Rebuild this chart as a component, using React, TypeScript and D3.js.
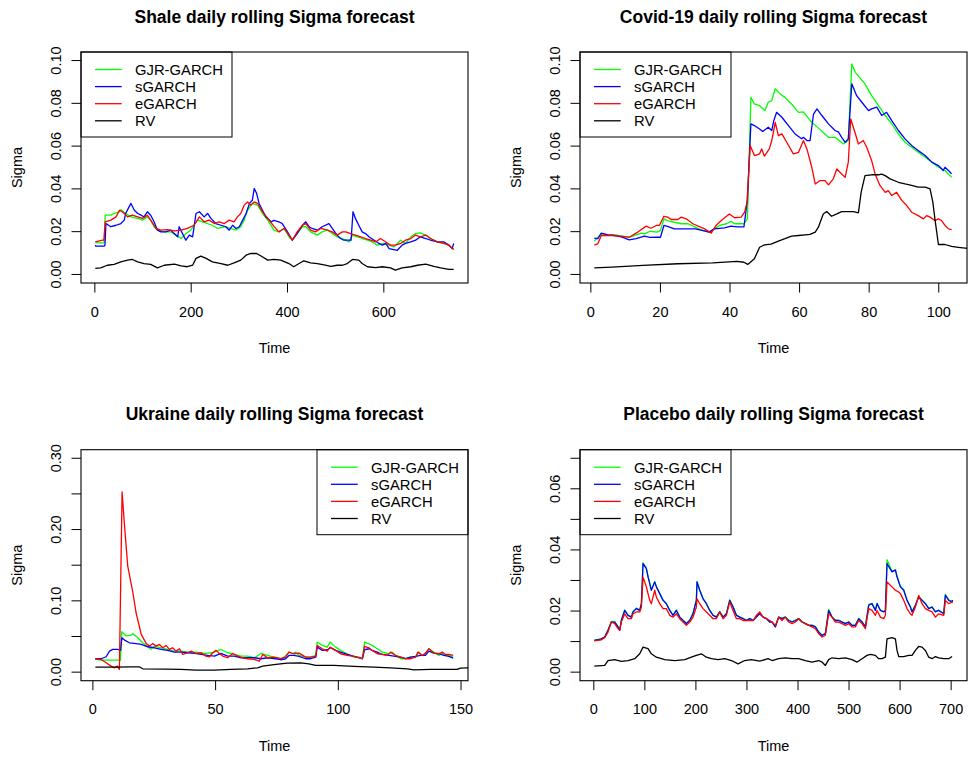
import React from "react";
import * as d3 from "d3";

type Pt = [number, number];

// Legend labels and line colours (drawn in this order)
const modelNames = ["GJR-GARCH", "sGARCH", "eGARCH", "RV"];
const modelColors = ["#00ff00", "#0000ff", "#ff0000", "#000000"];

// ---------- Shale (days 1..745) ----------
const shaleGjr: Pt[] = [
  [1, .0148], [19, .0148], [21.5, .0277], [33, .0277], [40, .0285], [51, .0293], [54, .0303], [64, .0285], [75, .0269],
  [89, .0262], [99, .0254], [109, .0269], [116, .0254], [123, .0223], [130, .0207], [144, .0199], [158, .0199],
  [168, .0184], [179, .0168], [189, .0191], [199, .0207], [206, .0230], [213, .0254], [224, .0246], [234, .0238],
  [244, .0230], [255, .0215], [269, .0223], [282, .0215], [293, .0207], [303, .0223], [310, .0254], [317, .0300],
  [327, .0332], [338, .0324], [348, .0285], [359, .0254], [372, .0207], [382, .0199], [393, .0215], [403, .0176],
  [410, .0160], [420, .0191], [431, .0223], [438, .0223], [448, .0199], [462, .0184], [472, .0199], [483, .0207],
  [493, .0191], [503, .0176], [514, .0168], [528, .0152], [535, .0184], [545, .0176], [555, .0168], [566, .0160],
  [576, .0152], [586, .0137], [600, .0145], [611, .0137], [621, .0129], [635, .0160], [645, .0145], [656, .0176],
  [666, .0191], [676, .0194], [687, .0184], [697, .0168], [711, .0152], [725, .0145], [735, .0137], [745, .0117],
];
const shaleSgarch: Pt[] = [
  [1, .0137], [2, .0132], [12, .0132], [19, .0132], [21, .0137], [23, .0238], [33, .0223], [44, .0230], [54, .0238],
  [61, .0254], [64, .0285], [71, .0316], [75, .0332], [82, .0300], [89, .0285], [96, .0277], [102, .0269], [109, .0293],
  [116, .0277], [123, .0246], [130, .0207], [137, .0199], [147, .0199], [158, .0207], [165, .0191], [172, .0176],
  [175, .0223], [182, .0191], [189, .0160], [196, .0184], [203, .0176], [206, .0223], [210, .0285], [217, .0293],
  [227, .0269], [234, .0285], [241, .0262], [251, .0238], [262, .0230], [272, .0223], [279, .0207], [286, .0230],
  [293, .0215], [300, .0223], [307, .0254], [314, .0285], [321, .0332], [327, .0347], [331, .0402], [336, .0378],
  [341, .0332], [348, .0300], [355, .0269], [366, .0246], [372, .0253], [382, .0246], [389, .0238], [400, .0199],
  [410, .0160], [420, .0191], [431, .0230], [438, .0246], [445, .0223], [451, .0215], [462, .0207], [472, .0223],
  [486, .0238], [493, .0215], [503, .0184], [510, .0168], [517, .0160], [528, .0160], [532, .0160], [536, .0293],
  [541, .0262], [548, .0230], [555, .0199], [562, .0191], [569, .0176], [580, .0160], [590, .0145], [597, .0137],
  [604, .0145], [611, .0121], [628, .0113], [638, .0137], [645, .0145], [656, .0152], [666, .0160], [676, .0176],
  [687, .0168], [697, .0160], [711, .0152], [725, .0152], [735, .0137], [742, .0121], [745, .0145],
];
const shaleEgarch: Pt[] = [
  [1, .0152], [16, .0160], [19, .0160], [21.5, .0246], [33, .0254], [44, .0269], [51, .0300], [57, .0293], [68, .0269],
  [78, .0277], [89, .0269], [99, .0262], [109, .0277], [116, .0254], [127, .0215], [137, .0207], [151, .0210],
  [165, .0204], [179, .0207], [192, .0215], [206, .0230], [217, .0269], [227, .0246], [237, .0254], [248, .0238],
  [258, .0246], [269, .0238], [279, .0254], [289, .0246], [296, .0269], [303, .0285], [310, .0324], [317, .0339],
  [324, .0324], [331, .0339], [338, .0332], [348, .0293], [359, .0262], [372, .0225], [382, .0199], [393, .0215],
  [403, .0184], [410, .0160], [420, .0199], [431, .0230], [438, .0238], [448, .0207], [458, .0199], [469, .0215],
  [483, .0207], [493, .0199], [503, .0184], [514, .0199], [521, .0199], [531, .0191], [541, .0184], [552, .0176],
  [562, .0168], [573, .0160], [583, .0152], [593, .0168], [604, .0152], [614, .0137], [624, .0137], [635, .0145],
  [645, .0160], [656, .0168], [666, .0184], [676, .0176], [687, .0184], [697, .0168], [711, .0152], [725, .0145],
  [735, .0137], [745, .0117],
];
const shaleRv: Pt[] = [
  [1, .0028], [12, .0031], [26, .0043], [40, .0047], [54, .0059], [68, .0067], [78, .0070], [89, .0059], [102, .0051],
  [116, .0047], [130, .0031], [144, .0043], [165, .0048], [179, .0040], [192, .0036], [203, .0043], [210, .0075],
  [220, .0086], [231, .0075], [244, .0059], [262, .0051], [276, .0043], [289, .0054], [303, .0067], [314, .0090],
  [324, .0098], [336, .0098], [345, .0086], [359, .0067], [372, .0070], [386, .0067], [403, .0051], [413, .0036],
  [424, .0051], [434, .0064], [448, .0054], [462, .0051], [476, .0045], [490, .0038], [503, .0043], [514, .0043],
  [524, .0051], [535, .0070], [548, .0067], [555, .0051], [566, .0036], [583, .0032], [597, .0036], [614, .0031],
  [624, .0020], [638, .0031], [656, .0036], [670, .0043], [687, .0048], [704, .0038], [718, .0031], [735, .0024],
  [745, .0024],
];

// ---------- Covid-19 (days 1..104) ----------
const covidGjr: Pt[] = [
  [1, .0156], [3, .0190], [5, .0185], [7, .0185], [9, .0179], [11, .0173], [13, .0185], [14.5, .0193], [15.4, .0190],
  [17, .0202], [19, .0198], [20, .0206], [21, .0260], [22, .0252], [24, .0244], [26, .0237], [28, .0237], [30, .0221],
  [32, .0206], [34, .0198], [35.5, .0213], [37, .0229], [39, .0237], [40.3, .0248], [41.3, .0237], [44, .0237],
  [45, .0260], [46, .0828], [47, .0797], [48.5, .0789], [50, .0766], [51, .0805], [52, .0813], [53, .0868],
  [54.4, .0844], [55.8, .0828], [57.7, .0797], [59.7, .0758], [61.1, .0760], [63, .0720], [65, .0690], [68.3, .0641],
  [70.2, .0641], [72.6, .0610], [74, .0625], [75, .0984], [76, .0945], [78.8, .0891], [80.7, .0836], [82.7, .0789],
  [84.6, .0743], [86.5, .0704], [88.4, .0657], [90.3, .0618], [92.2, .0595], [94.1, .0571], [96.1, .0548],
  [98, .0525], [99.9, .0501], [101.8, .0486], [103.7, .0454],
];
const covidSgarch: Pt[] = [
  [1, .0170], [2, .0167], [3, .0193], [5, .0185], [7, .0182], [9, .0174], [11, .0162], [13, .0167], [15.4, .0179],
  [17, .0173], [19, .0174], [20, .0174], [21, .0229], [22, .0225], [24, .0213], [27, .0213], [30, .0213], [32, .0206],
  [34, .0198], [35.5, .0213], [38.4, .0218], [40.3, .0226], [42, .0222], [44, .0222], [45, .0350], [46, .0704],
  [47, .0696], [48.5, .0680], [49.4, .0668], [51, .0688], [52, .0673], [52.6, .0720], [53.4, .0758], [54.9, .0735],
  [56.8, .0696], [58.7, .0657], [60.6, .0634], [61.1, .0641], [62.1, .0626], [63, .0626], [64, .0750], [65, .0774],
  [66.4, .0743], [68.3, .0704], [70.2, .0673], [71.2, .0665], [72.1, .0641], [73.1, .0618], [74, .0634],
  [75, .0891], [76.4, .0836], [77.9, .0805], [79.8, .0766], [80.7, .0774], [82.2, .0782], [83.6, .0743],
  [85, .0758], [86.5, .0719], [88.4, .0673], [90.3, .0634], [92.2, .0603], [94.1, .0579], [96.1, .0556],
  [98, .0525], [99.9, .0509], [101.3, .0486], [101.8, .0501], [102.8, .0486], [103.7, .0470],
];
const covidEgarch: Pt[] = [
  [1, .0138], [2, .0143], [3, .0182], [6, .0182], [9, .0178], [11, .0174], [13.5, .0198], [15.9, .0226],
  [17.3, .0216], [18.8, .0229], [19.7, .0229], [21, .0272], [22.1, .0268], [23.1, .0257], [25, .0257], [26, .0268],
  [27.4, .0260], [29.3, .0237], [32.7, .0213], [34.6, .0193], [36, .0229], [37.5, .0252], [39.8, .0283],
  [41.3, .0265], [43.2, .0268], [44.2, .0291], [44.9, .0338], [45.8, .0603], [47, .0556], [48.5, .0564],
  [49.1, .0587], [49.9, .0553], [51.3, .0587], [52, .0626], [53, .0711], [53.9, .0649], [54.9, .0657],
  [56.3, .0618], [58.2, .0564], [59.7, .0571], [61.1, .0626], [62.1, .0587], [63.5, .0501], [64.5, .0423],
  [65.9, .0439], [67.3, .0439], [68.3, .0419], [69.7, .0447], [70.7, .0493], [71.6, .0478], [73.1, .0454],
  [74, .0525], [74.7, .0727], [75.9, .0665], [76.9, .0610], [78.3, .0626], [79.3, .0595], [80.7, .0533],
  [81.7, .0470], [83.1, .0416], [84.6, .0384], [85.5, .0392], [86.5, .0369], [87.9, .0384], [89.4, .0345],
  [90.8, .0322], [92.2, .0291], [94.1, .0275], [95.6, .0260], [96.5, .0275], [97.5, .0268], [98.9, .0252],
  [99.9, .0260], [100.8, .0252], [101.8, .0229], [102.8, .0213], [103.7, .0210],
];
const covidRv: Pt[] = [
  [1, .0031], [6, .0034], [15, .0042], [25, .0050], [35, .0054], [42, .0061], [44, .0057], [45.1, .0047],
  [47, .0073], [48.5, .0127], [49.9, .0138], [51.8, .0142], [53.9, .0156], [55.8, .0167], [57.7, .0179],
  [59.7, .0182], [61.6, .0185], [63, .0187], [64.5, .0198], [65.4, .0221], [66.8, .0283], [67.8, .0294],
  [69.2, .0272], [70.7, .0283], [72.1, .0294], [73.6, .0294], [75.5, .0294], [76.9, .0288], [77.7, .0385],
  [78.8, .0462], [80.7, .0466], [82.7, .0466], [83.6, .0469], [84.6, .0462], [86, .0447], [88.4, .0431],
  [90.3, .0423], [92.2, .0416], [94.1, .0408], [96.1, .0408], [97.5, .0400], [98.3, .0338], [98.9, .0260],
  [99.9, .0140], [101.8, .0140], [103.7, .0131], [105.6, .0127], [107.6, .0123], [110, .0120],
];

// ---------- Ukraine (days 1..147) ----------
const ukraineGjr: Pt[] = [
  [1, .0178], [3.4, .0169], [6.1, .0169], [8.8, .0169], [11.2, .0169], [11.8, .0567], [13.6, .0510], [15.6, .0520],
  [16.3, .0539], [18.3, .0482], [20.3, .0412], [22.4, .0356], [23.7, .0319], [25.1, .0365], [27.8, .0342],
  [30.5, .0319], [33.2, .0295], [35.9, .0295], [38.7, .0281], [42, .0281], [45.4, .0262], [48.8, .0272],
  [52.2, .0318], [54.9, .0272], [57.6, .0248], [60.4, .0225], [63.1, .0225], [65.8, .0202], [68.5, .0262],
  [71.2, .0234], [73.8, .0211], [76.5, .0188], [77.9, .0211], [79.9, .0281], [81.3, .0258], [82.6, .0281],
  [84, .0234], [86.7, .0211], [88.7, .0211], [90.8, .0234], [91.4, .0422], [93.5, .0375], [95.5, .0351],
  [96.6, .0422], [98.9, .0351], [100.9, .0305], [103.6, .0258], [106.4, .0211], [108.4, .0211], [109.8, .0188],
  [110.7, .0422], [112.5, .0398], [113.8, .0375], [115.9, .0328], [117.9, .0281], [120.6, .0258], [122, .0281],
  [123.3, .0234], [125.4, .0188], [127.4, .0188], [129.4, .0211], [131.5, .0211], [132.8, .0281], [134.2, .0234],
  [135.5, .0258], [136.9, .0328], [138.9, .0281], [141, .0234], [142.3, .0267], [143.7, .0234], [145, .0234],
  [146.8, .0211],
];
const ukraineSgarch: Pt[] = [
  [1, .0188], [3.4, .0188], [5.4, .0216], [6.8, .0295], [8.1, .0319], [10.2, .0319], [11.3, .0305], [11.8, .0482],
  [12.9, .0450], [14.9, .0412], [16.9, .0403], [19.7, .0389], [22.4, .0356], [25.1, .0342], [27.8, .0319],
  [30.5, .0305], [33.2, .0281], [35.9, .0281], [38.7, .0272], [41.4, .0262], [44.1, .0248], [46.8, .0234],
  [49.5, .0225], [52.2, .0262], [54.9, .0225], [57.6, .0225], [60.4, .0202], [63.1, .0202], [65.8, .0202],
  [68.5, .0188], [71.2, .0202], [74.6, .0188], [76.5, .0174], [78.5, .0188], [79.9, .0234], [81.9, .0234],
  [84, .0220], [86.7, .0188], [88.7, .0188], [90.8, .0211], [91.4, .0351], [93.5, .0305], [95.5, .0314],
  [96.9, .0342], [98.9, .0305], [100.9, .0281], [103.6, .0248], [106.4, .0220], [109.8, .0188], [110.7, .0314],
  [112.5, .0328], [113.8, .0305], [115.9, .0281], [117.9, .0248], [120.6, .0234], [123.3, .0220], [125.4, .0211],
  [127.4, .0188], [129.4, .0211], [131.5, .0220], [133.5, .0234], [135.5, .0234], [136.9, .0295], [138.9, .0267],
  [141, .0258], [143, .0234], [145, .0220], [146.8, .0197],
];
const ukraineEgarch: Pt[] = [
  [1, .0188], [3.4, .0178], [5.4, .0131], [7.4, .0084], [8.8, .0061], [9.9, .0084], [10.8, .0038], [11.9, .2527],
  [12.9, .2050], [14.2, .1488], [16.3, .1114], [17.6, .0833], [19.7, .0529], [21.7, .0403], [23.1, .0365],
  [24.4, .0403], [25.8, .0365], [27.1, .0389], [28.5, .0342], [29.8, .0375], [31.2, .0319], [32.5, .0342],
  [33.9, .0295], [35.3, .0328], [36.6, .0248], [38.7, .0272], [40, .0295], [42, .0262], [44.1, .0272],
  [46.1, .0225], [47.5, .0216], [48.8, .0272], [50.2, .0305], [51.5, .0262], [52.9, .0225], [54.9, .0202],
  [57, .0262], [59, .0225], [61, .0202], [63.1, .0188], [65.8, .0178], [67.8, .0155], [69.2, .0248], [71.2, .0202],
  [73.8, .0211], [76.5, .0188], [78.5, .0211], [79.9, .0281], [81.9, .0258], [84, .0267], [86.7, .0211],
  [88.7, .0211], [90.8, .0220], [91.4, .0374], [93.5, .0328], [95.5, .0295], [96.6, .0351], [98.9, .0305],
  [100.9, .0258], [103.6, .0234], [106.4, .0220], [109.8, .0188], [110.7, .0361], [112.5, .0342], [113.8, .0305],
  [115.9, .0258], [117.9, .0248], [119.9, .0234], [121.3, .0281], [123.3, .0234], [125.4, .0211], [127.4, .0188],
  [129.4, .0188], [131.5, .0211], [132.4, .0281], [134.2, .0234], [135.5, .0267], [136.9, .0328], [138.9, .0267],
  [141, .0258], [142.3, .0281], [143.7, .0248], [145, .0248], [146.8, .0234],
];
const ukraineRv: Pt[] = [
  [1, .0070], [8.8, .0070], [15.6, .0075], [18.9, .0075], [20.3, .0047], [29.2, .0042], [35.9, .0038], [42, .0029],
  [49.5, .0029], [56.3, .0038], [63.1, .0047], [67.1, .0061], [69.2, .0084], [74.6, .0108], [79.2, .0127],
  [84.7, .0131], [88, .0117], [90.8, .0094], [98.2, .0094], [106.4, .0080], [114.5, .0070], [121.3, .0061],
  [128.1, .0047], [130.8, .0033], [137.6, .0038], [144.3, .0038], [148.4, .0038], [149.8, .0057], [152.5, .0061],
  [155, .0065],
];

// ---------- Placebo (days 1..703) ----------
const placeboGjr: Pt[] = [
  [1, .0105], [8.2, .0107], [14.8, .0110], [21.3, .0116], [27.8, .0138], [34.4, .0166], [40.9, .0165], [47.4, .0149],
  [50.7, .0138], [53.9, .0170], [60.5, .0204], [67, .0187], [73.5, .0181], [76.8, .0198], [83.3, .0210],
  [89.9, .0203], [93.2, .0226], [96.4, .0358], [102.9, .0341], [106.2, .0314], [109.5, .0292], [112.7, .0270],
  [119.3, .0297], [122.5, .0281], [129.1, .0258], [135.6, .0236], [142.1, .0225], [148.7, .0203], [155.2, .0187],
  [161.7, .0204], [168.3, .0181], [174.8, .0170], [181.3, .0160], [187.9, .0170], [194.4, .0194], [200.9, .0237],
  [202.2, .0297], [207.4, .0270], [214, .0241], [220.5, .0225], [227, .0203], [233.6, .0187], [240.1, .0181],
  [246.6, .0199], [253.2, .0181], [259.7, .0192], [266.2, .0237], [272.8, .0214], [279.3, .0187], [285.8, .0181],
  [292.3, .0176], [298.9, .0170], [305.4, .0176], [312, .0170], [318.5, .0181], [325, .0192], [331.6, .0181],
  [338.1, .0176], [344.6, .0165], [349.1, .0165], [355.6, .0149], [362.2, .0181], [368.7, .0176], [375.2, .0181],
  [381.8, .0170], [388.3, .0165], [394.8, .0170], [401.4, .0176], [407.9, .0165], [414.4, .0160], [421, .0154],
  [427.5, .0154], [434, .0149], [440.5, .0132], [447.1, .0121], [453.6, .0127], [460.1, .0205], [466.7, .0181],
  [473.2, .0170], [479.7, .0170], [486.3, .0165], [492.8, .0160], [499.3, .0165], [505.9, .0154], [512.4, .0154],
  [518.9, .0176], [525.5, .0165], [532, .0149], [538.5, .0222], [545.1, .0225], [551.6, .0203], [554.9, .0226],
  [561.4, .0203], [567.9, .0198], [571.2, .0204], [574.4, .0368], [584.2, .0330], [590.8, .0336], [594, .0314],
  [600.6, .0281], [607.1, .0270], [613.6, .0236], [620.2, .0214], [623.4, .0198], [630, .0220], [636.5, .0248],
  [643, .0236], [649.6, .0225], [656.1, .0209], [662.6, .0214], [669.2, .0198], [675.7, .0203], [685.5, .0192],
  [688.7, .0255], [695.3, .0237], [701.8, .0231], [703, .0236],
];
const placeboSgarch: Pt[] = [
  [1, .0104], [8.2, .0106], [14.8, .0109], [21.3, .0115], [27.8, .0137], [34.4, .0164], [40.9, .0164], [47.4, .0148],
  [50.7, .0137], [53.9, .0169], [60.5, .0202], [67, .0186], [73.5, .0180], [76.8, .0197], [83.3, .0208],
  [89.9, .0202], [93.2, .0224], [96.4, .0355], [102.9, .0339], [106.2, .0312], [109.5, .0290], [112.7, .0268],
  [119.3, .0295], [122.5, .0279], [129.1, .0257], [135.6, .0235], [142.1, .0224], [148.7, .0202], [155.2, .0186],
  [161.7, .0202], [168.3, .0180], [174.8, .0169], [181.3, .0159], [187.9, .0169], [194.4, .0191], [200.9, .0235],
  [202.2, .0295], [207.4, .0268], [214, .0240], [220.5, .0224], [227, .0202], [233.6, .0186], [240.1, .0180],
  [246.6, .0197], [253.2, .0180], [259.7, .0191], [266.2, .0235], [272.8, .0213], [279.3, .0186], [285.8, .0180],
  [292.3, .0175], [298.9, .0169], [305.4, .0175], [312, .0169], [318.5, .0180], [325, .0191], [331.6, .0180],
  [338.1, .0175], [344.6, .0164], [349.1, .0164], [355.6, .0148], [362.2, .0180], [368.7, .0175], [375.2, .0180],
  [381.8, .0169], [388.3, .0164], [394.8, .0169], [401.4, .0175], [407.9, .0164], [414.4, .0159], [421, .0153],
  [427.5, .0153], [434, .0148], [440.5, .0131], [447.1, .0120], [453.6, .0126], [460.1, .0202], [466.7, .0180],
  [473.2, .0169], [479.7, .0169], [486.3, .0164], [492.8, .0159], [499.3, .0164], [505.9, .0153], [512.4, .0153],
  [518.9, .0175], [525.5, .0164], [532, .0148], [538.5, .0219], [545.1, .0224], [551.6, .0202], [554.9, .0224],
  [561.4, .0202], [567.9, .0197], [571.2, .0202], [574.4, .0355], [584.2, .0328], [590.8, .0334], [594, .0312],
  [600.6, .0279], [607.1, .0268], [613.6, .0235], [620.2, .0213], [623.4, .0197], [630, .0219], [636.5, .0246],
  [643, .0235], [649.6, .0224], [656.1, .0208], [662.6, .0213], [669.2, .0197], [675.7, .0202], [685.5, .0191],
  [688.7, .0252], [695.3, .0235], [701.8, .0230], [703, .0235],
];
const placeboEgarch: Pt[] = [
  [1, .0102], [8.2, .0104], [14.8, .0106], [21.3, .0113], [27.8, .0131], [34.4, .0164], [40.9, .0159], [47.4, .0142],
  [50.7, .0137], [53.9, .0164], [60.5, .0191], [67, .0175], [73.5, .0175], [76.8, .0191], [83.3, .0197],
  [89.9, .0197], [93.2, .0213], [96.4, .0311], [102.9, .0279], [106.2, .0257], [109.5, .0235], [112.7, .0224],
  [119.3, .0268], [122.5, .0246], [129.1, .0224], [135.6, .0208], [142.1, .0208], [148.7, .0186], [155.2, .0180],
  [161.7, .0191], [168.3, .0175], [174.8, .0164], [181.3, .0153], [187.9, .0164], [194.4, .0180], [200.9, .0213],
  [202.2, .0240], [207.4, .0224], [214, .0208], [220.5, .0197], [227, .0186], [233.6, .0175], [240.1, .0175],
  [246.6, .0197], [253.2, .0175], [259.7, .0186], [266.2, .0230], [272.8, .0202], [279.3, .0175], [285.8, .0175],
  [292.3, .0169], [298.9, .0169], [305.4, .0169], [312, .0169], [318.5, .0186], [325, .0197], [331.6, .0180],
  [338.1, .0175], [344.6, .0169], [349.1, .0164], [355.6, .0153], [362.2, .0180], [368.7, .0169], [375.2, .0180],
  [381.8, .0164], [388.3, .0159], [394.8, .0164], [401.4, .0175], [407.9, .0164], [414.4, .0159], [421, .0153],
  [427.5, .0148], [434, .0142], [440.5, .0126], [447.1, .0115], [453.6, .0120], [460.1, .0191], [466.7, .0180],
  [473.2, .0164], [479.7, .0164], [486.3, .0159], [492.8, .0153], [499.3, .0159], [505.9, .0148], [512.4, .0148],
  [518.9, .0169], [525.5, .0159], [532, .0142], [538.5, .0208], [545.1, .0202], [551.6, .0186], [554.9, .0202],
  [561.4, .0180], [567.9, .0175], [571.2, .0186], [574.4, .0295], [584.2, .0279], [590.8, .0268], [597.3, .0262],
  [600.6, .0257], [607.1, .0235], [613.6, .0208], [620.2, .0191], [623.4, .0186], [630, .0213], [636.5, .0251],
  [643, .0224], [649.6, .0208], [656.1, .0202], [662.6, .0197], [669.2, .0180], [675.7, .0191], [685.5, .0186],
  [688.7, .0235], [695.3, .0224], [701.8, .0230], [703, .0228],
];
const placeboRv: Pt[] = [
  [1, .0020], [21.3, .0022], [27.8, .0038], [40.9, .0041], [53.9, .0035], [67, .0038], [80.1, .0044], [89.9, .0060],
  [96.4, .0082], [106.2, .0077], [112.7, .0060], [122.5, .0049], [138.9, .0041], [158.5, .0038], [178.1, .0041],
  [191.1, .0049], [200.9, .0055], [210.7, .0060], [220.5, .0049], [230.3, .0044], [243.4, .0041], [256.4, .0044],
  [269.5, .0038], [282.6, .0027], [295.6, .0038], [308.7, .0041], [325, .0036], [341.4, .0044], [349.1, .0038],
  [362.2, .0044], [375.2, .0047], [388.3, .0044], [401.4, .0044], [414.4, .0038], [427.5, .0033], [440.5, .0038],
  [447.1, .0033], [453.6, .0022], [460.1, .0041], [466.7, .0047], [479.7, .0044], [492.8, .0047], [505.9, .0041],
  [515.7, .0033], [525.5, .0044], [535.3, .0055], [541.8, .0058], [551.6, .0055], [558.1, .0044], [564.6, .0044],
  [571.2, .0049], [574.4, .0109], [584.2, .0113], [590.8, .0109], [594, .0071], [597.3, .0051], [607.1, .0051],
  [616.9, .0055], [623.4, .0055], [630, .0071], [636.5, .0084], [643, .0082], [649.6, .0071], [656.1, .0049],
  [662.6, .0044], [669.2, .0051], [675.7, .0047], [685.5, .0044], [695.3, .0044], [701.8, .0051],
];

// Axis tick values per panel
const shaleXTicks = [0, 200, 400, 600];
const covidXTicks = [0, 20, 40, 60, 80, 100];
const ukraineXTicks = [0, 50, 100, 150];
const placeboXTicks = [0, 100, 200, 300, 400, 500, 600, 700];
const shaleYTicks = [0, 0.02, 0.04, 0.06, 0.08, 0.1];
const covidYTicks = [0, 0.02, 0.04, 0.06, 0.08, 0.1];
const ukraineYTicks = [0, 0.05, 0.1, 0.15, 0.2, 0.25, 0.3];
const placeboYTicks = [0, 0.01, 0.02, 0.03, 0.04, 0.05, 0.06, 0.07];

interface Panel {
  title: string;
  series: Pt[][];
  nObs: number;
  yMax: number;
  yTicks: number[];
  yLabelEvery: number;
  xTicks: number[];
  left: number;
  top: number;
  legendRight: boolean;
}

const W = 970;
const H = 758;
const BOX_W = 387;
const BOX_H = 231;
const FONT = "'Liberation Sans', Arial, Helvetica, sans-serif";

const panels: Panel[] = [
  {
    title: "Shale daily rolling Sigma forecast",
    series: [shaleGjr, shaleSgarch, shaleEgarch, shaleRv],
    nObs: 745, yMax: 0.1, yTicks: shaleYTicks, yLabelEvery: 1, xTicks: shaleXTicks,
    left: 81, top: 52, legendRight: false,
  },
  {
    title: "Covid-19 daily rolling Sigma forecast",
    series: [covidGjr, covidSgarch, covidEgarch, covidRv],
    nObs: 104, yMax: 0.1, yTicks: covidYTicks, yLabelEvery: 1, xTicks: covidXTicks,
    left: 580, top: 52, legendRight: false,
  },
  {
    title: "Ukraine daily rolling Sigma forecast",
    series: [ukraineGjr, ukraineSgarch, ukraineEgarch, ukraineRv],
    nObs: 147, yMax: 0.3, yTicks: ukraineYTicks, yLabelEvery: 2, xTicks: ukraineXTicks,
    left: 81, top: 449.7, legendRight: true,
  },
  {
    title: "Placebo daily rolling Sigma forecast",
    series: [placeboGjr, placeboSgarch, placeboEgarch, placeboRv],
    nObs: 703, yMax: 0.07, yTicks: placeboYTicks, yLabelEvery: 2, xTicks: placeboXTicks,
    left: 580, top: 449.7, legendRight: false,
  },
];

function PanelView({ p, idx }: { p: Panel; idx: number }) {
  const right = p.left + BOX_W;
  const bottom = p.top + BOX_H;
  const span = p.nObs - 1;
  // R-style 4% padding around the observation range and the y limits
  const x = d3.scaleLinear().domain([1 - 0.04 * span, p.nObs + 0.04 * span]).range([p.left, right]);
  const y = d3.scaleLinear().domain([-0.04 * p.yMax, 1.04 * p.yMax]).range([bottom, p.top]);
  const line = d3.line<Pt>().x((d) => x(d[0])).y((d) => y(d[1]));
  const clipId = `plot-clip-${idx}`;
  const cx = (p.left + right) / 2;
  const cy = (p.top + bottom) / 2;
  const tick = 9.5;

  const legW = 151;
  const legH = 85;
  const legX = p.legendRight ? right - legW : p.left;
  const legY = p.top;

  return (
    <g>
      <defs>
        <clipPath id={clipId}>
          <rect x={p.left} y={p.top} width={BOX_W} height={BOX_H} />
        </clipPath>
      </defs>
      <text x={cx} y={p.top - 29.5} textAnchor="middle" fontWeight="bold" fontSize={17.5} fontFamily={FONT} fill="#000">
        {p.title}
      </text>

      <g clipPath={`url(#${clipId})`}>
        {p.series.map((s, i) => (
          <path key={i} d={line(s) || ""} fill="none" stroke={modelColors[i]} strokeWidth={1.3} strokeLinejoin="round" />
        ))}
      </g>

      {/* x axis */}
      {p.xTicks.map((t) => (
        <g key={`xt${t}`}>
          <line x1={x(t)} x2={x(t)} y1={bottom} y2={bottom + tick} stroke="#000" strokeWidth={1} />
          <text x={x(t)} y={bottom + 33.5} textAnchor="middle" fontSize={14.5} fontFamily={FONT} fill="#000">
            {t}
          </text>
        </g>
      ))}
      <text x={cx} y={bottom + 70} textAnchor="middle" fontSize={14.5} fontFamily={FONT} fill="#000">
        Time
      </text>

      {/* y axis */}
      {p.yTicks.map((v, i) => (
        <g key={`yt${i}`}>
          <line x1={p.left - tick} x2={p.left} y1={y(v)} y2={y(v)} stroke="#000" strokeWidth={1} />
          {i % p.yLabelEvery === 0 && (
            <text
              transform={`translate(${p.left - 20},${y(v)}) rotate(-90)`}
              textAnchor="middle"
              fontSize={14.5}
              fontFamily={FONT}
              fill="#000"
            >
              {v.toFixed(2)}
            </text>
          )}
        </g>
      ))}
      <text
        transform={`translate(${p.left - 59},${cy}) rotate(-90)`}
        textAnchor="middle"
        fontSize={14.5}
        fontFamily={FONT}
        fill="#000"
      >
        Sigma
      </text>

      {/* legend */}
      <rect x={legX} y={legY} width={legW} height={legH} fill="#fff" stroke="#000" strokeWidth={1} />
      {modelNames.map((name, i) => {
        const ry = legY + 17.5 + i * 17.1;
        return (
          <g key={name}>
            <line x1={legX + 14} x2={legX + 40.7} y1={ry} y2={ry} stroke={modelColors[i]} strokeWidth={1.3} />
            <text x={legX + 54} y={ry} dy="0.36em" fontSize={14.8} fontFamily={FONT} fill="#000">
              {name}
            </text>
          </g>
        );
      })}

      <rect x={p.left} y={p.top} width={BOX_W} height={BOX_H} fill="none" stroke="#000" strokeWidth={1.1} />
    </g>
  );
}

export default function App() {
  return (
    <svg
      width={W}
      height={H}
      viewBox={`0 0 ${W} ${H}`}
      style={{ position: "absolute", left: 0, top: 0, background: "#fff" }}
    >
      <rect x={0} y={0} width={W} height={H} fill="#fff" />
      {panels.map((p, i) => (
        <PanelView key={i} p={p} idx={i} />
      ))}
    </svg>
  );
}
